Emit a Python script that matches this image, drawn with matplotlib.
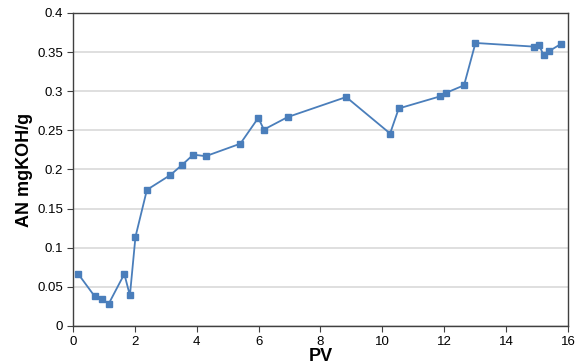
import matplotlib
matplotlib.use("Agg")
import matplotlib.pyplot as plt

pv = [0.17, 0.70, 0.95, 1.15, 1.66, 1.84, 2.02, 2.39, 3.15, 3.53, 3.89, 4.29,
      5.41, 5.99, 6.17, 6.94, 8.83, 10.25, 10.53, 11.87, 12.06, 12.64, 13.01,
      14.91, 15.07, 15.21, 15.38, 15.77]
an = [0.0665, 0.038, 0.035, 0.028, 0.0665, 0.039, 0.114, 0.174, 0.193, 0.206,
      0.219, 0.217, 0.233, 0.266, 0.251, 0.267, 0.2926, 0.246, 0.278, 0.2935,
      0.298, 0.3076, 0.3617, 0.357, 0.3587, 0.346, 0.351, 0.3604]
xticks = [0, 2, 4, 6, 8, 10, 12, 14, 16]
yticks = [0, 0.05, 0.1, 0.15, 0.2, 0.25, 0.3, 0.35, 0.4]
yticklabels = ["0", "0.05", "0.1", "0.15", "0.2", "0.25", "0.3", "0.35", "0.4"]

plt.rcParams['font.family'] = ['Liberation Sans', 'DejaVu Sans']
fig = plt.figure(figsize=(5.81, 3.64), dpi=100)
ax = fig.add_axes([0.1256, 0.1044, 0.852, 0.8599])
ax.plot(pv, an, color='#4a7ebb', linewidth=1.3, marker='s', markersize=5,
        markerfacecolor='#4a7ebb', markeredgecolor='#4a7ebb', zorder=3)
ax.set_xlim(0, 16)
ax.set_ylim(0, 0.4)
ax.set_xticks(xticks)
ax.set_xticklabels([str(t) for t in xticks])
ax.set_yticks(yticks)
ax.set_yticklabels(yticklabels)
ax.grid(axis='y', color='#d9d9d9', linewidth=1.2)
ax.set_axisbelow(True)
for s in ax.spines.values():
    s.set_color('#404040')
    s.set_linewidth(1.0)
ax.tick_params(axis='x', direction='out', length=4, color='#404040', labelsize=9.5, pad=3)
ax.tick_params(axis='y', direction='out', length=4, color='#404040', labelsize=9.5, pad=3)
ax.set_xlabel('PV', fontsize=13, fontweight='bold', labelpad=0)
ax.set_ylabel('AN mgKOH/g', fontsize=13, fontweight='bold', labelpad=3)
fig.savefig('out.png', dpi=100)
